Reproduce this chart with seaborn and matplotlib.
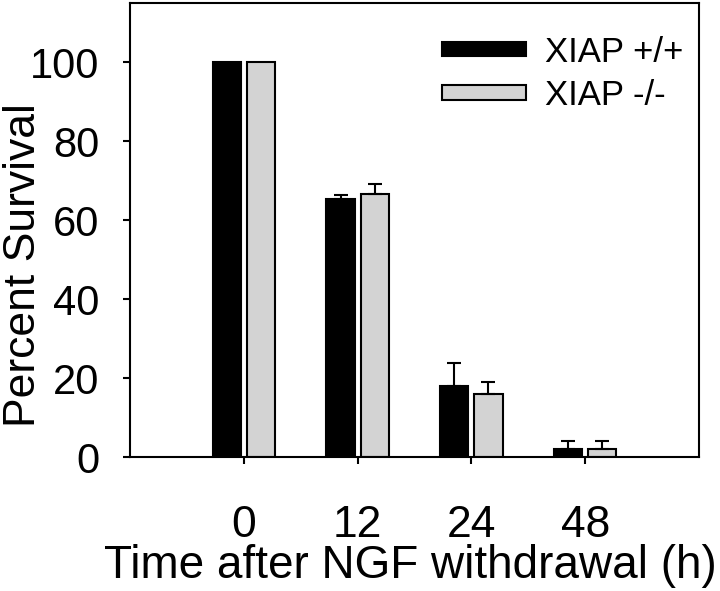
import matplotlib
matplotlib.use("Agg")
import matplotlib.pyplot as plt
import numpy as np
import pandas as pd
import seaborn as sns

# values
times = ["0", "12", "24", "48"]
genotypes = ["XIAP +/+", "XIAP -/-"]
survival_wt = [100, 65.3, 18, 2.1]
survival_ko = [100, 66.6, 16, 2.1]
sem_wt = [0, 1.0, 6.0, 2.0]
sem_ko = [0, 2.5, 3.0, 2.0]

df = pd.DataFrame({
    "time": times * 2,
    "genotype": [genotypes[0]] * 4 + [genotypes[1]] * 4,
    "survival": survival_wt + survival_ko,
})
errors = {genotypes[0]: sem_wt, genotypes[1]: sem_ko}

sns.set_theme(style="ticks")
plt.rcParams["font.family"] = ["Liberation Sans", "DejaVu Sans"]
plt.rcParams["axes.linewidth"] = 1.5
plt.rcParams["text.color"] = "black"
plt.rcParams["axes.labelcolor"] = "black"

fig = plt.figure(figsize=(7.2, 5.91), dpi=100)
ax = fig.add_axes([0.1806, 0.2262, 0.7902, 0.7687])

sns.barplot(
    data=df,
    x="time",
    y="survival",
    hue="genotype",
    order=times,
    hue_order=genotypes,
    palette=["black", "#d3d3d3"],
    width=0.6,
    gap=0.17,
    edgecolor="black",
    linewidth=1.5,
    saturation=1,
    errorbar=None,
    ax=ax,
)

# one-sided (upward) error bars on top of each bar
for cont, g in zip(ax.containers, genotypes):
    xs = np.array([b.get_x() + b.get_width() / 2 for b in cont])
    hs = np.array([b.get_height() for b in cont])
    err = np.array(errors[g])
    keep = err > 0
    ax.errorbar(
        xs[keep], hs[keep],
        yerr=[np.zeros(keep.sum()), err[keep]],
        fmt="none", ecolor="black", elinewidth=1.5,
        capsize=5, capthick=1.5, zorder=1,
    )

ax.set_xlim(-1, 4)
ax.set_ylim(0, 115)
ax.set_yticks([0, 20, 40, 60, 80, 100])
for s in ax.spines.values():
    s.set_visible(True)
    s.set_color("black")

ax.tick_params(axis="y", direction="out", length=5, width=1.5,
               labelsize=30, pad=17, colors="black")
ax.tick_params(axis="x", direction="out", length=5, width=1.5,
               labelsize=32, pad=29, colors="black")
ax.set_xlabel("Time after NGF withdrawal (h)", fontsize=33, color="black")
ax.xaxis.set_label_coords(0.493, -0.19)
ax.set_ylabel("Percent Survival", fontsize=32, color="black")
ax.yaxis.set_label_coords(-0.151, 0.423)

ax.legend(
    loc="upper right",
    bbox_to_anchor=(1.027, 0.997),
    frameon=False,
    fontsize=25,
    handlelength=2.4,
    handleheight=0.25,
    handletextpad=0.55,
    labelspacing=0.3,
)

fig.savefig("out.png", dpi=100)
